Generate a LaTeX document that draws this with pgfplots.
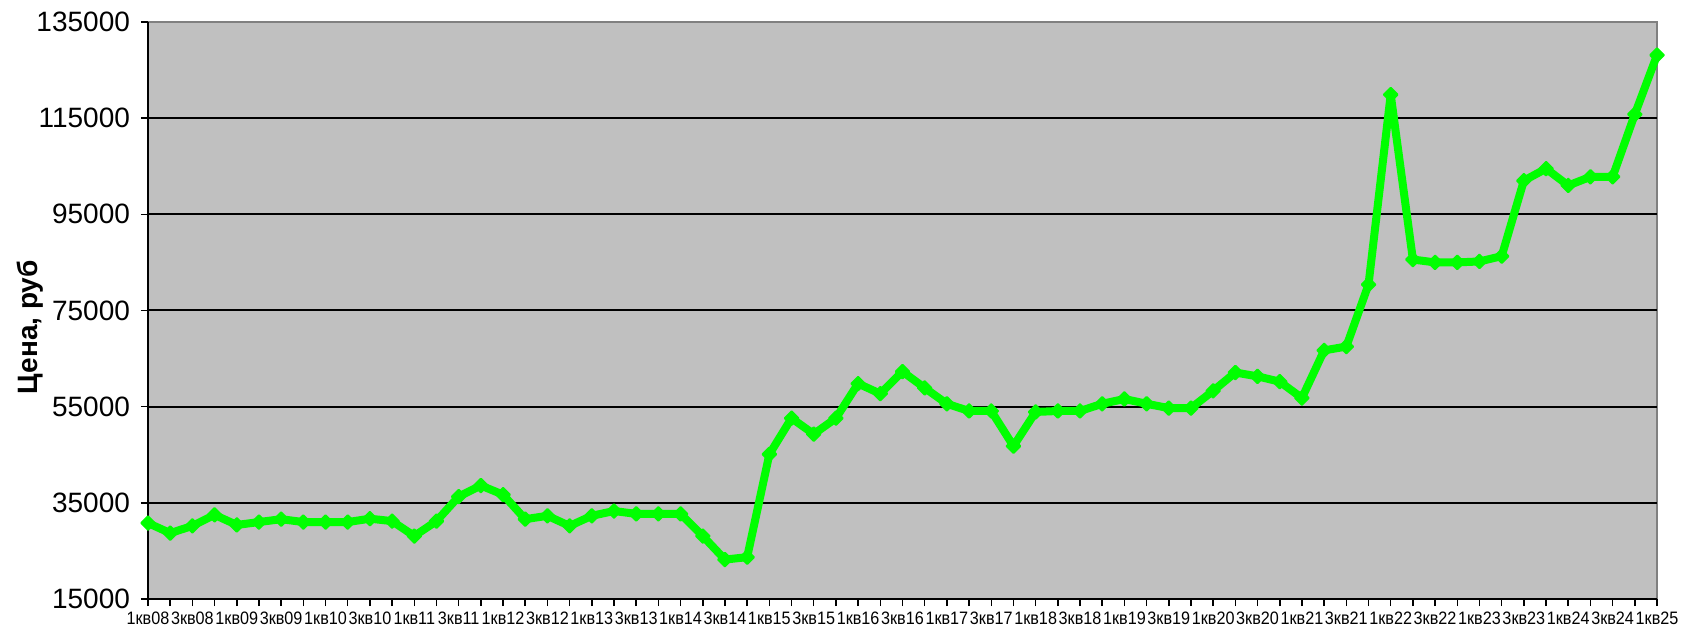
\documentclass[border=0pt]{standalone}
\usepackage{fontspec}
\setmainfont{Liberation Sans}
\usepackage{graphicx}
\usepackage{pgfplots}
\usepackage{pgfplotstable}
\pgfplotsset{compat=1.18}
\definecolor{bggray}{RGB}{192,192,192}
\definecolor{framegray}{RGB}{128,128,128}
\definecolor{lgreen}{RGB}{0,255,0}
\newcommand{\qlab}[1]{\scalebox{0.9}[1]{#1}}

\pgfplotstableread{
i v
0 30800
1 28700
2 30200
3 32500
4 30400
5 31000
6 31600
7 31000
8 31000
9 31000
10 31700
11 31200
12 28100
13 31200
14 36300
15 38600
16 36700
17 31600
18 32300
19 30200
20 32300
21 33300
22 32700
23 32700
24 32700
25 28100
26 23200
27 23700
28 45100
29 52600
30 49300
31 52600
32 59800
33 57700
34 62300
35 58900
36 55600
37 54100
38 54100
39 46800
40 53900
41 54100
42 54100
43 55600
44 56600
45 55600
46 54700
47 54700
48 58300
49 62100
50 61300
51 60200
52 56800
53 66700
54 67500
55 80400
56 119900
57 85600
58 85000
59 85000
60 85200
61 86300
62 102000
63 104500
64 101000
65 102800
66 102800
67 115800
68 128100
}\pricedata

\begin{document}
\begin{tikzpicture}
\path[use as bounding box] (-74pt,-17pt) rectangle (767.5pt,299.5pt);
\begin{axis}[
  at={(0,0)}, anchor=south west,
  scale only axis, width=754.5pt, height=288.5pt,
  xmin=0, xmax=68, ymin=15000, ymax=135000,
  clip=false,
  scaled y ticks=false, scaled x ticks=false,
  axis background/.style={fill=bggray, draw=framegray, line width=0.75pt},
  axis lines*=left,
  axis line style={-, black, line width=1pt},
  tick align=outside, tick pos=left,
  major tick length=3.5pt, minor tick length=3.5pt,
  every tick/.style={black, line width=0.75pt},
  xtick={0,2,...,68},
  minor xtick={1,3,...,67},
  xticklabels={\qlab{1кв08},\qlab{3кв08},\qlab{1кв09},\qlab{3кв09},\qlab{1кв10},\qlab{3кв10},\qlab{1кв11},\qlab{3кв11},\qlab{1кв12},\qlab{3кв12},\qlab{1кв13},\qlab{3кв13},\qlab{1кв14},\qlab{3кв14},\qlab{1кв15},\qlab{3кв15},\qlab{1кв16},\qlab{3кв16},\qlab{1кв17},\qlab{3кв17},\qlab{1кв18},\qlab{3кв18},\qlab{1кв19},\qlab{3кв19},\qlab{1кв20},\qlab{3кв20},\qlab{1кв21},\qlab{3кв21},\qlab{1кв22},\qlab{3кв22},\qlab{1кв23},\qlab{3кв23},\qlab{1кв24},\qlab{3кв24},\qlab{1кв25}},
  xticklabel style={font=\fontsize{9}{10}\selectfont, inner sep=1.5pt, yshift=-1.5pt},
  ytick={15000,35000,55000,75000,95000,115000},
  yticklabels={15000,35000,55000,75000,95000,115000},
  extra y ticks={135000},
  extra y tick labels={135000},
  extra y tick style={grid=none},
  ymajorgrids,
  major grid style={black, line width=1pt},
  yticklabel style={font=\fontsize{14}{16}\selectfont, xshift=-2pt},
  ylabel={Цена, руб},
  ylabel style={font=\bfseries\fontsize{14}{16}\selectfont, at={(axis description cs:-0.0782,0.471)}, anchor=center, rotate=0},
]
\addplot[lgreen, line width=4pt, line join=round, mark=square*, mark size=2.4pt, mark options={solid, rotate=45, fill=lgreen, draw=lgreen, line width=1pt}] table[x=i, y=v] {\pricedata};
\end{axis}
\end{tikzpicture}
\end{document}
